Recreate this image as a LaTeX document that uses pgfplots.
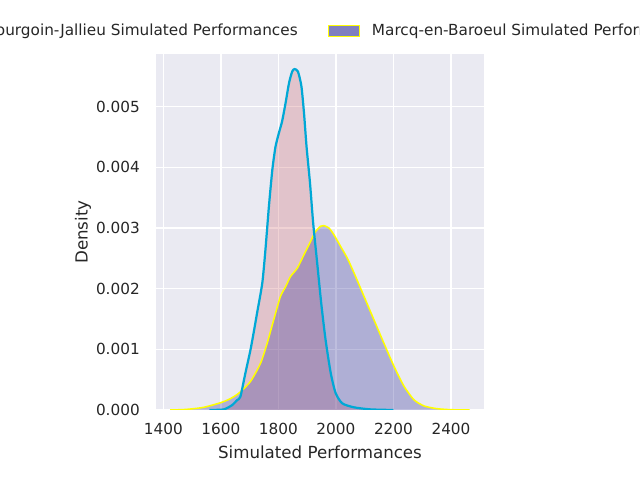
\documentclass[border=0pt]{standalone}
\usepackage{fontspec}
\setmainfont{DejaVu Sans}
\usepackage{pgfplots}
\pgfplotsset{compat=1.18}
\definecolor{bgc}{RGB}{234,234,242}
\definecolor{pinkf}{RGB}{207,107,115}
\definecolor{purpf}{RGB}{41,41,149}
\definecolor{purpleg}{RGB}{128,128,192}
\definecolor{bluel}{RGB}{0,168,214}
\definecolor{yell}{RGB}{255,255,0}
\definecolor{txt}{RGB}{38,38,38}

\pgfplotstableread{
x y
1560 0
1610 0.00001
1639 0.00008
1657 0.000165
1668 0.00022
1685 0.0006
1703 0.00099
1715 0.0013
1726 0.0016
1744 0.00209
1755 0.00264
1767 0.00335
1779 0.00396
1790 0.00434
1802 0.00457
1813 0.00476
1825 0.00506
1837 0.00539
1848 0.00558
1856 0.00562
1868 0.00558
1880 0.00534
1889 0.0049
1898 0.00434
1910 0.00374
1921 0.00308
1935 0.00242
1949 0.00176
1964 0.00116
1982 0.00061
1999 0.00028
2022 0.00011
2063 0.000044
2121 0.00001
2200 0
}\bourgoin

\pgfplotstableread{
x y
1424 0
1480 0.00001
1540 0.000044
1599 0.00012
1630 0.00018
1662 0.000275
1703 0.00047
1738 0.00077
1761 0.0011
1784 0.00149
1807 0.00187
1825 0.00203
1842 0.0022
1866 0.00234
1889 0.00256
1912 0.00278
1929 0.00294
1947 0.00303
1958 0.00304
1976 0.003
1993 0.00289
2016 0.0027
2040 0.0025
2063 0.00226
2098 0.00187
2132 0.00149
2167 0.0011
2202 0.00072
2237 0.00039
2272 0.000165
2307 0.000066
2351 0.000022
2400 0.000005
2465 0
}\marcq

\begin{document}
\begin{tikzpicture}
\useasboundingbox (0,0) rectangle (460.8pt,345.6pt);
\clip (0,0) rectangle (460.8pt,345.6pt);
\begin{axis}[
  at={(112.32pt,50.4pt)}, anchor=south west,
  scale only axis, width=236.16pt, height=256.32pt,
  xmin=1374.6, xmax=2514.8, ymin=0, ymax=0.005869,
  axis background/.style={fill=bgc},
  axis line style={draw=none},
  major tick length=0pt,
  grid=major,
  major grid style={white, line width=1pt},
  xtick={1400,1600,1800,2000,2200,2400},
  ytick={0,0.001,0.002,0.003,0.004,0.005},
  scaled y ticks=false,
  xticklabel style={/pgf/number format/set thousands separator={}, font=\fontsize{11}{13}\selectfont, text=txt, inner sep=0pt, anchor=north, yshift=-9.6pt},
  yticklabel style={/pgf/number format/fixed, /pgf/number format/fixed zerofill, /pgf/number format/precision=3, font=\fontsize{11}{13}\selectfont, text=txt, inner sep=0pt, anchor=east, xshift=-11.5pt},
  /pgf/number format/assume math mode=true,
  xlabel={Simulated Performances},
  ylabel={Density},
  every axis x label/.style={at={([yshift=-30.24pt]axis description cs:0.5,0)}, anchor=center, font=\fontsize{12}{14}\selectfont, text=txt},
  every axis y label/.style={at={([xshift=-52.56pt]axis description cs:0,0.5)}, anchor=center, rotate=90, font=\fontsize{12}{14}\selectfont, text=txt},
  legend columns=2,
  legend style={at={(0.5,1)}, anchor=center, yshift=16.56pt, draw=none, fill=none,
    font=\fontsize{11}{13}\selectfont, text=txt,
    nodes={inner sep=0pt},
    /tikz/column 1/.style={column sep=8.8pt},
    /tikz/column 2/.style={column sep=22pt},
    /tikz/column 3/.style={column sep=8.8pt}},
]
\addplot[draw=none, fill=pinkf, fill opacity=0.3, smooth, tension=0.4, forget plot] table {\bourgoin} \closedcycle;
\addplot[draw=none, fill=purpf, fill opacity=0.3, smooth, tension=0.4, forget plot] table {\marcq} \closedcycle;
\addplot[yell, line width=1.1pt, smooth, tension=0.4, forget plot] table {\marcq};
\addplot[bluel, line width=1.6pt, smooth, tension=0.4, forget plot] table {\bourgoin};
\addlegendimage{legend image code/.code={\draw[fill=pinkf!60!bgc, draw=bluel, line width=0.7pt] (0pt,-3.85pt) rectangle (22pt,3.85pt);}}
\addlegendentry{Bourgoin-Jallieu Simulated Performances}
\addlegendimage{legend image code/.code={\draw[fill=purpleg, draw=yell, line width=0.7pt] (0pt,-3.85pt) rectangle (22pt,3.85pt);}}
\addlegendentry{Marcq-en-Baroeul Simulated Performances}
\end{axis}
\end{tikzpicture}
\end{document}
